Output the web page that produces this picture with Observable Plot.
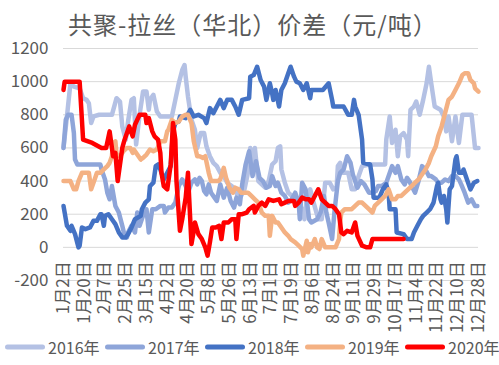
<!DOCTYPE html>
<html><head><meta charset="utf-8">
<script src="https://cdn.jsdelivr.net/npm/d3@7"></script>
<script src="https://cdn.jsdelivr.net/npm/@observablehq/plot@0.6"></script>
<style>
body{margin:0;background:#fff;font-family:"Noto Sans CJK SC","Noto Sans",sans-serif;}
#wrap{width:499px;height:365px;position:relative;overflow:hidden;background:#fff}
#title{position:absolute;left:68px;top:5px;font-size:24px;letter-spacing:1px;color:#595959;line-height:38px;white-space:nowrap}
#chart{position:absolute;left:0;top:40px}
#legend{position:absolute;left:5px;top:335px;display:flex;height:24px;align-items:center}
.item{display:flex;align-items:center;width:100px;font-size:16px;color:#595959;white-space:nowrap}
.item svg{margin-right:3px}
</style></head>
<body><div id="wrap"><div id="title"></div><div id="chart"></div><div id="legend"></div></div>
<script>
const title = "共聚-拉丝（华北）价差（元/吨）";
const years = ["2016年","2017年","2018年","2019年","2020年"];
const colors = ["#b4c1e4","#8ea5d9","#4472c4","#f4b183","#ff0000"];
const xTickLabels = ["1月2日","1月20日","2月7日","2月25日","3月15日","4月2日","4月20日","5月8日","5月26日","6月13日","7月1日","7月19日","8月6日","8月24日","9月11日","9月29日","10月17日","11月4日","11月22日","12月10日","12月28日"];
const yTicks = [-200,0,200,400,600,800,1000,1200];

// [day of year, spread]
const s2016 = [[2,600],[5,790],[8,990],[11,970],[16,960],[19,900],[22,890],[24,870],[26,750],[28,790],[33,800],[38,800],[44,800],[48,900],[51,880],[53,730],[56,650],[58,760],[61,890],[63,900],[65,620],[68,800],[71,940],[74,940],[76,830],[77,890],[80,920],[83,820],[86,790],[92,790],[96,790],[99,890],[102,990],[105,1070],[107,1100],[108,1030],[110,910],[113,770],[116,710],[118,600],[121,690],[124,690],[126,610],[129,550],[132,510],[135,490],[138,450],[141,430],[144,390],[148,370],[151,350],[153,310],[156,310],[159,350],[162,450],[164,600],[166,450],[168,600],[171,400],[174,380],[177,360],[180,400],[183,500],[186,520],[188,600],[190,610],[191,470],[194,390],[197,330],[200,310],[203,290],[206,270],[209,230],[211,170],[213,290],[216,350],[219,270],[223,170],[226,170],[229,390],[233,390],[236,350],[239,370],[240,490],[242,510],[244,450],[249,450],[252,350],[255,350],[257,410],[261,490],[267,500],[275,500],[281,500],[282,650],[285,790],[287,630],[290,710],[292,550],[294,670],[297,690],[300,650],[301,550],[303,830],[306,850],[308,880],[311,800],[314,890],[317,990],[319,1090],[321,990],[324,850],[329,830],[332,790],[334,700],[336,790],[339,640],[342,790],[345,630],[348,800],[356,800],[359,600],[362,600]];
const s2017 = [[2,600],[4,770],[6,800],[9,800],[11,690],[12,530],[14,500],[20,500],[30,500],[34,500],[35,470],[38,410],[40,330],[42,290],[44,370],[47,250],[50,210],[53,130],[55,70],[57,60],[58,90],[61,130],[64,90],[66,210],[68,130],[71,190],[74,230],[76,90],[79,230],[82,230],[86,250],[89,250],[90,210],[93,240],[96,240],[99,270],[102,370],[105,410],[108,370],[110,330],[113,390],[116,410],[118,380],[120,420],[122,400],[124,340],[126,320],[128,380],[130,330],[133,300],[135,280],[138,380],[141,300],[144,360],[147,280],[150,240],[152,300],[155,260],[157,380],[160,500],[163,580],[166,430],[169,520],[172,420],[175,400],[178,360],[181,370],[183,430],[186,370],[188,390],[191,330],[194,310],[197,270],[200,290],[203,330],[206,270],[207,170],[209,390],[212,350],[215,170],[217,150],[222,170],[225,210],[228,310],[230,210],[232,150],[235,50],[237,210],[240,400],[242,450],[245,470],[248,550],[251,510],[253,440],[257,360],[260,400],[263,380],[267,330],[270,330],[273,340],[275,370],[278,370],[282,390],[287,490],[290,450],[292,490],[295,410],[298,380],[300,420],[302,400],[304,370],[307,330],[310,400],[313,490],[316,470],[319,430],[321,430],[325,410],[327,390],[330,390],[333,410],[336,400],[339,430],[342,430],[345,410],[347,380],[350,330],[353,270],[356,290],[359,250],[361,250]];
const s2018 = [[2,250],[5,130],[8,100],[9,130],[12,80],[15,0],[16,10],[18,120],[21,110],[25,120],[28,160],[31,160],[34,200],[35,200],[37,130],[38,190],[41,200],[44,170],[47,140],[50,90],[53,60],[56,60],[58,80],[61,120],[64,170],[69,190],[70,230],[73,270],[76,290],[77,370],[80,390],[82,490],[84,500],[86,470],[89,410],[92,450],[95,490],[97,700],[99,750],[102,760],[103,790],[108,780],[112,830],[115,790],[119,800],[124,780],[126,750],[129,840],[132,810],[135,850],[138,890],[141,840],[144,890],[148,890],[151,850],[154,800],[157,890],[163,900],[164,1030],[167,1040],[170,1090],[173,1010],[176,970],[178,890],[181,990],[183,930],[184,890],[186,950],[189,850],[191,950],[194,990],[197,1050],[199,1090],[202,1030],[204,1000],[207,990],[210,950],[213,990],[216,900],[217,950],[227,950],[232,990],[235,890],[236,850],[245,850],[249,800],[252,800],[254,890],[255,850],[258,800],[261,650],[262,510],[268,500],[270,410],[271,300],[276,300],[279,350],[282,380],[284,330],[285,230],[290,230],[291,90],[297,80],[300,50],[304,50],[306,90],[309,130],[312,170],[314,190],[317,210],[320,230],[323,270],[326,370],[327,390],[329,290],[330,270],[332,310],[334,230],[335,150],[337,350],[339,370],[342,530],[343,550],[345,450],[348,450],[349,470],[352,410],[355,350],[358,390],[361,400]];
const s2019 = [[2,400],[8,400],[11,350],[13,350],[15,400],[18,450],[21,450],[24,450],[26,350],[29,410],[31,450],[34,450],[37,470],[40,490],[42,510],[44,550],[45,630],[47,640],[48,560],[51,550],[54,580],[57,600],[60,600],[62,570],[63,590],[66,560],[69,530],[71,540],[74,560],[77,590],[80,580],[83,590],[86,640],[90,640],[92,700],[93,710],[96,770],[99,750],[102,760],[105,790],[108,800],[110,800],[113,750],[115,640],[118,550],[120,550],[123,540],[125,550],[128,450],[130,400],[133,400],[136,400],[138,410],[141,480],[143,420],[146,360],[149,330],[151,360],[154,350],[156,330],[159,330],[162,330],[165,310],[168,290],[171,270],[174,210],[177,190],[180,190],[181,70],[183,190],[186,150],[188,150],[191,120],[194,90],[197,70],[199,50],[203,30],[206,10],[209,-10],[210,-50],[212,10],[213,40],[214,-30],[216,20],[217,0],[220,50],[222,0],[224,-10],[226,50],[229,0],[232,0],[235,0],[238,0],[241,50],[242,150],[243,210],[246,230],[249,230],[252,230],[255,250],[258,270],[261,270],[264,250],[267,230],[270,210],[272,250],[275,270],[278,290],[281,310],[284,350],[287,290],[290,290],[292,310],[295,310],[298,330],[301,350],[304,370],[307,390],[310,410],[313,440],[316,470],[319,510],[321,550],[325,610],[327,670],[330,730],[333,810],[336,890],[339,910],[342,950],[345,990],[348,1040],[350,1050],[353,1050],[355,1010],[358,990],[359,960],[362,940]];
const s2020 = [[2,950],[3,1000],[16,1000],[19,650],[27,630],[35,600],[39,600],[42,700],[45,550],[47,570],[49,400],[53,600],[55,650],[59,730],[61,690],[62,670],[64,740],[68,800],[73,800],[74,750],[76,780],[79,700],[81,670],[84,650],[86,570],[87,450],[89,370],[92,350],[93,400],[95,500],[97,750],[99,650],[100,400],[103,100],[105,170],[108,300],[110,450],[111,300],[113,20],[115,100],[116,150],[119,80],[122,50],[125,0],[127,-50],[129,30],[131,120],[134,120],[137,130],[139,50],[141,150],[145,150],[148,170],[151,170],[152,50],[154,200],[157,200],[161,210],[163,230],[167,250],[168,210],[171,250],[174,270],[177,250],[180,290],[184,280],[189,290],[191,260],[194,270],[197,280],[202,280],[203,250],[206,270],[209,300],[212,290],[215,290],[217,270],[220,310],[223,350],[226,290],[229,270],[232,250],[235,250],[238,230],[241,200],[243,90],[245,80],[248,100],[252,90],[255,150],[257,70],[261,10],[265,0],[268,0],[270,50],[297,50]];

const series = [s2016, s2017, s2018, s2019, s2020];
const rows = series.flatMap((pts, i) => pts.map(([day, value]) => ({year: years[i], day, value})));

const dayOfYear = s => {
  const m = s.match(/(\d+)月(\d+)日/);
  const d = new Date(2021, +m[1] - 1, +m[2]);
  return d3.timeDay.count(d3.timeYear(d), d) + 1;
};
const xTicks = xTickLabels.map(l => ({label: l, day: dayOfYear(l)}));

const grey = "#595959";
const font = '"Noto Sans CJK SC","Noto Sans",sans-serif';

const chart = Plot.plot({
  width: 499,
  height: 292,
  marginTop: 8,
  marginLeft: 63,
  marginRight: 21,
  marginBottom: 52,
  style: {fontFamily: font, background: "transparent", overflow: "visible"},
  x: {domain: [xTicks[0].day, xTicks[xTicks.length - 1].day], axis: null},
  y: {domain: [-200, 1200], axis: null},
  color: {domain: years, range: colors},
  marks: [
    Plot.ruleY(yTicks, {stroke: "#d9d9d9", strokeWidth: 1}),
    Plot.text(yTicks, {y: d => d, text: d => String(d), frameAnchor: "left", textAnchor: "end", dx: -15, fontSize: 17, fill: grey}),
    Plot.text(xTicks, {x: "day", y: 0, text: "label", rotate: -90, textAnchor: "end", dy: 14, fontSize: 17, fill: grey}),
    Plot.line(rows, {x: "day", y: "value", z: "year", stroke: "year", strokeWidth: 4.5, strokeLinejoin: "round", strokeLinecap: "round"})
  ]
});
document.getElementById("chart").appendChild(chart);
document.getElementById("title").textContent = title;

const legend = document.getElementById("legend");
years.forEach((y, i) => {
  const item = document.createElement("div");
  item.className = "item";
  item.innerHTML = `<svg width="40" height="10"><line x1="2.5" y1="5" x2="37.5" y2="5" stroke="${colors[i]}" stroke-width="5" stroke-linecap="round"/></svg><span>${y}</span>`;
  legend.appendChild(item);
});
</script></body></html>
